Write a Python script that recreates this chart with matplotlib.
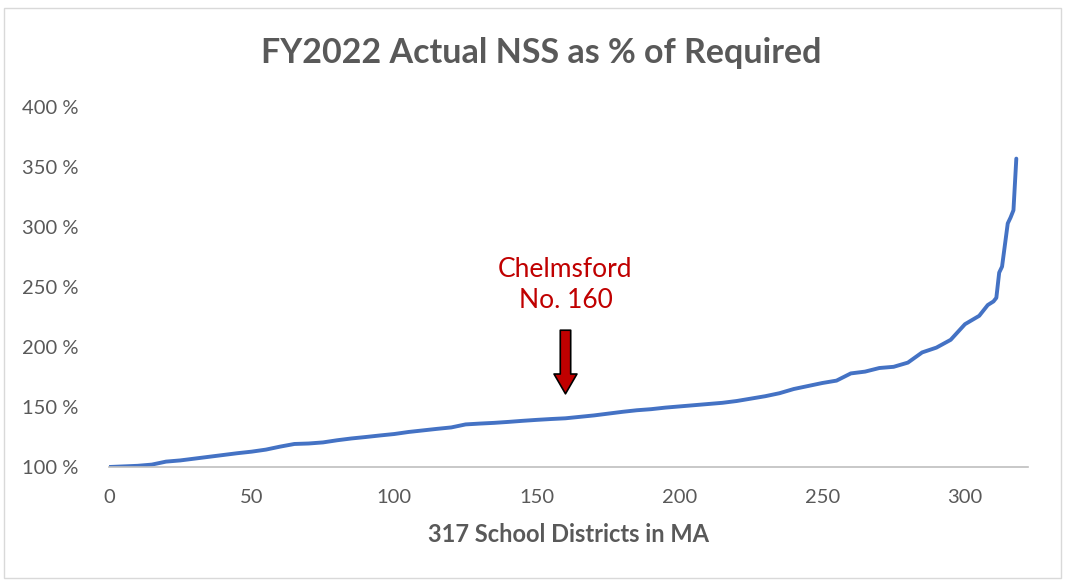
import matplotlib
matplotlib.use("Agg")
import matplotlib.pyplot as plt
from matplotlib.patches import Rectangle
from matplotlib.ticker import FuncFormatter

############################################
# DATA
############################################

district_rank = [0, 5, 10, 15, 20, 25, 30, 35, 40, 45,
                 50, 55, 60, 65, 70, 75, 80, 85, 90, 95,
                 100, 105, 110, 115, 120, 125, 130, 135, 140, 145,
                 150, 155, 160, 165, 170, 175, 180, 185, 190, 195,
                 200, 205, 210, 215, 220, 225, 230, 235, 240, 245,
                 250, 255, 260, 265, 270, 275, 280, 285, 290, 295,
                 300, 305, 308, 310, 311, 312, 313, 315, 316, 317, 318]

nss_pct = [100, 100.5, 101, 102, 104.5, 105.5, 107, 108.5, 110, 111.5,
           112.8, 114.5, 117, 119.2, 119.6, 120.5, 122.3, 123.8, 125, 126.3,
           127.5, 129.2, 130.5, 131.8, 133, 135.5, 136.2, 136.8, 137.6, 138.5,
           139.3, 140, 140.6, 141.8, 143, 144.5, 146, 147.3, 148.2, 149.5,
           150.5, 151.5, 152.5, 153.5, 155, 157, 159, 161.5, 165, 167.5,
           170, 172, 178, 179.5, 182.5, 183.5, 187, 195.5, 199.5, 206,
           219, 226, 235, 238, 241, 262, 267, 303, 308, 314, 357]

x_ticks = [0, 50, 100, 150, 200, 250, 300]
y_ticks = [100, 150, 200, 250, 300, 350, 400]

highlight_rank = 160
highlight_label = "Chelmsford\nNo. 160"

TITLE = "FY2022 Actual NSS as % of Required"
XLABEL = "317 School Districts in MA"

############################################
# PLOT
############################################

plt.rcParams["font.family"] = ["Lato", "DejaVu Sans"]
GRAY = "#595959"

fig = plt.figure(figsize=(10.65, 5.8), dpi=100)
ax = fig.add_axes([0.1023, 0.1948, 0.8627, 0.6207])

ax.plot(district_rank, nss_pct, color="#4472C4", lw=2.8, solid_capstyle="round")

ax.set_xlim(0, 322)
ax.set_ylim(100, 400)
ax.set_xticks(x_ticks)
ax.set_yticks(y_ticks)
ax.yaxis.set_major_formatter(FuncFormatter(lambda v, _: f"{int(v)} %"))

for s in ["top", "right", "left"]:
    ax.spines[s].set_visible(False)
ax.spines["bottom"].set_color("#BFBFBF")
ax.spines["bottom"].set_linewidth(1.2)
ax.tick_params(axis="both", length=0, labelsize=14.5, labelcolor=GRAY)
ax.tick_params(axis="x", pad=16)
ax.tick_params(axis="y", pad=22)

ax.set_xlabel(XLABEL, fontsize=17, fontweight="bold", color=GRAY, labelpad=12)
fig.text(0.508, 0.908, TITLE, ha="center", va="center",
         fontsize=24.5, fontweight="bold", color=GRAY)

# annotation
ax.text(highlight_rank, 251.5, highlight_label, ha="center", va="center",
        fontsize=19, color="#C00000", linespacing=1.32)
ax.annotate("", xy=(highlight_rank, 161), xytext=(highlight_rank, 214),
            arrowprops=dict(arrowstyle="simple,head_length=0.95,head_width=1.1,tail_width=0.5",
                            fc="#C00000", ec="black", lw=1.2, mutation_scale=15,
                            shrinkA=0, shrinkB=0))

# chart area border
fig.patches.append(Rectangle((0.004, 0.004), 0.992, 0.982, transform=fig.transFigure,
                             fill=False, edgecolor="#D9D9D9", lw=1))

fig.savefig("out.png", dpi=100)
